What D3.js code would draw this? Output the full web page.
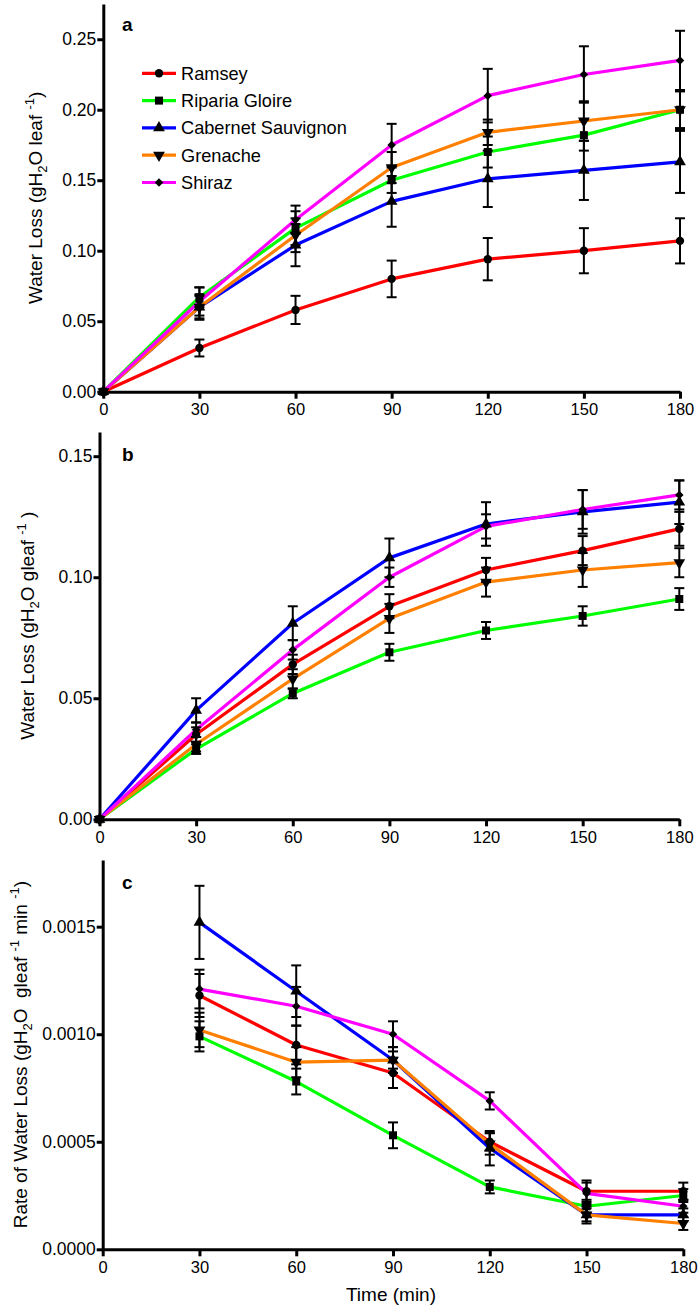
<!DOCTYPE html>
<html>
<head>
<meta charset="utf-8">
<script src="https://cdn.jsdelivr.net/npm/d3@7"></script>
<style>
  body { margin: 0; background: #fff; }
  text { font-family: "Liberation Sans", Arial, sans-serif; fill: #000; }
</style>
</head>
<body>
<svg id="chart" width="700" height="1308"></svg>
<script>
// ---- data ----
const cultivars = ["Ramsey", "Riparia Gloire", "Cabernet Sauvignon", "Grenache", "Shiraz"];
const seriesColors = ["#ff0000", "#00ff00", "#0000ff", "#ff8000", "#ff00ff"];
const timeA = [0, 30, 60, 90, 120, 150, 180];
const timeC = [30, 60, 90, 120, 150, 180];
const xTicks = [0, 30, 60, 90, 120, 150, 180];

// a: water loss per leaf
const lossLeaf = [
  [0, 0.031, 0.058, 0.080, 0.094, 0.100, 0.107],
  [0, 0.067, 0.116, 0.150, 0.170, 0.182, 0.200],
  [0, 0.060, 0.104, 0.135, 0.151, 0.157, 0.163],
  [0, 0.060, 0.111, 0.159, 0.184, 0.192, 0.200],
  [0, 0.064, 0.122, 0.175, 0.210, 0.225, 0.235]
];
const lossLeafErr = [
  [0, 0.006, 0.010, 0.013, 0.015, 0.016, 0.016],
  [0, 0.007, 0.012, 0.009, 0.011, 0.011, 0.013],
  [0, 0.009, 0.015, 0.018, 0.020, 0.021, 0.022],
  [0, 0.008, 0.012, 0.011, 0.009, 0.014, 0.014],
  [0, 0.010, 0.010, 0.015, 0.019, 0.020, 0.021]
];
const ticksA = [0, 0.05, 0.10, 0.15, 0.20, 0.25];

// b: water loss per g leaf
const lossGram = [
  [0, 0.035, 0.064, 0.088, 0.103, 0.111, 0.120],
  [0, 0.029, 0.052, 0.069, 0.078, 0.084, 0.091],
  [0, 0.045, 0.081, 0.108, 0.122, 0.127, 0.131],
  [0, 0.031, 0.058, 0.083, 0.098, 0.103, 0.106],
  [0, 0.037, 0.070, 0.100, 0.121, 0.128, 0.134]
];
const lossGramErr = [
  [0, 0.003, 0.004, 0.005, 0.005, 0.006, 0.007],
  [0, 0.002, 0.002, 0.0035, 0.0035, 0.004, 0.0045],
  [0, 0.005, 0.007, 0.008, 0.009, 0.009, 0.009],
  [0, 0.003, 0.004, 0.006, 0.006, 0.007, 0.006],
  [0, 0.003, 0.004, 0.004, 0.005, 0.008, 0.006]
];
const ticksB = [0, 0.05, 0.10, 0.15];

// c: rate of water loss
const lossRate = [
  [0.00118, 0.00095, 0.00082, 0.00050, 0.00027, 0.00027],
  [0.00099, 0.00078, 0.00053, 0.00029, 0.00020, 0.00025],
  [0.00152, 0.00120, 0.00088, 0.00047, 0.00016, 0.00016],
  [0.00102, 0.00087, 0.00088, 0.00049, 0.00016, 0.00012],
  [0.00121, 0.00113, 0.00100, 0.00069, 0.00026, 0.00020]
];
const lossRateErr = [
  [0.00010, 0.00009, 0.00007, 0.00004, 0.00005, 0.00004],
  [0.00007, 0.00006, 0.00006, 0.00003, 0.00003, 0.00003],
  [0.00017, 0.00012, 0.00006, 0.00008, 0.00004, 0.00003],
  [0.00008, 0.00007, 0.00004, 0.00005, 0.00003, 0.00003],
  [0.00009, 0.00009, 0.00006, 0.00004, 0.00005, 0.00003]
];
const ticksC = [0, 0.0005, 0.0010, 0.0015];

// ---- layout ----
const svg = d3.select("#chart");
const tickFont = 17.5;
const titleFont = 19;

const panels = [
  { letter: "a", times: timeA, mean: lossLeaf, err: lossLeafErr, ticks: ticksA, fmt: d3.format(".2f"),
    left: 103.3, right: 680, top: 4, bottom: 391.7, yMax: 0.275, labelX: 42,
    label: [["Water Loss (gH"], ["2", "sub"], ["O leaf "], ["-1", "sup"], [")"]] },
  { letter: "b", times: timeA, mean: lossGram, err: lossGramErr, ticks: ticksB, fmt: d3.format(".2f"),
    left: 99.5, right: 679.3, top: 432, bottom: 819.3, yMax: 0.16, labelX: 34,
    label: [["Water Loss (gH"], ["2", "sub"], ["O gleaf "], ["-1", "sup"], [" )"]] },
  { letter: "c", times: timeC, mean: lossRate, err: lossRateErr, ticks: ticksC, fmt: d3.format(".4f"),
    left: 102.7, right: 683.3, top: 860, bottom: 1249.3, yMax: 0.00181, labelX: 27,
    label: [["Rate of Water Loss (gH"], ["2", "sub"], ["O  gleaf "], ["-1", "sup"], [" min "], ["-1", "sup"], [")"]] }
];

// marker shapes, one per cultivar
function markerPath(i) {
  const shapes = [
    d3.symbol(d3.symbolCircle, 55),
    d3.symbol(d3.symbolSquare, 64),
    d3.symbol(d3.symbolTriangle, 60),
    d3.symbol(d3.symbolTriangle, 60),
    d3.symbol(d3.symbolSquare, 36)
  ];
  return shapes[i]();
}
function markerRotate(i) {
  if (i === 3) return " rotate(180)";
  if (i === 4) return " rotate(45)";
  return "";
}

panels.forEach((p) => {
  const x = d3.scaleLinear().domain([0, 180]).range([p.left, p.right]);
  const y = d3.scaleLinear().domain([0, p.yMax]).range([p.bottom, p.top]);
  const g = svg.append("g");

  // axes
  const yAxis = g.append("g")
    .attr("transform", `translate(${p.left},0)`)
    .call(d3.axisLeft(y).tickValues(p.ticks).tickFormat(p.fmt).tickSize(6).tickSizeOuter(0).tickPadding(1));
  const xAxis = g.append("g")
    .attr("transform", `translate(0,${p.bottom})`)
    .call(d3.axisBottom(x).tickValues(xTicks).tickSize(7).tickSizeOuter(0).tickPadding(5));
  [yAxis, xAxis].forEach((ax) => {
    ax.select(".domain").attr("stroke", "#000").attr("stroke-width", 3);
    ax.selectAll(".tick line").attr("stroke", "#000").attr("stroke-width", 3);
    ax.selectAll(".tick text").attr("font-size", tickFont).attr("font-family", "Liberation Sans, Arial, sans-serif");
  });
  xAxis.selectAll(".tick text").attr("font-size", 16.5);

  // panel letter
  g.append("text")
    .attr("x", 122)
    .attr("y", p.top + (p.letter === "a" ? 27 : 29))
    .attr("font-size", 19)
    .attr("font-weight", "bold")
    .text(p.letter);

  // y label with sub/superscripts
  const lab = g.append("text")
    .attr("transform", `translate(${p.labelX},${(p.top + p.bottom) / 2}) rotate(-90)`)
    .attr("text-anchor", "middle")
    .style("white-space", "pre")
    .attr("font-size", titleFont);
  let prevKind = null;
  p.label.forEach(([t, kind]) => {
    const ts = lab.append("tspan").text(t);
    if (kind === "sub") ts.attr("font-size", titleFont * 0.68).attr("dy", 5);
    if (kind === "sup") ts.attr("font-size", titleFont * 0.68).attr("dy", -8);
    if (!kind && prevKind === "sub") ts.attr("dy", -5);
    if (!kind && prevKind === "sup") ts.attr("dy", 8);
    prevKind = kind || null;
  });

  const line = d3.line().x((d) => x(d[0])).y((d) => y(d[1]));

  // lines
  p.mean.forEach((vals, i) => {
    g.append("path")
      .datum(vals.map((v, j) => [p.times[j], v]))
      .attr("d", line)
      .attr("fill", "none")
      .attr("stroke", seriesColors[i])
      .attr("stroke-width", 3.2)
      .attr("stroke-linejoin", "round");
  });

  // error bars
  p.mean.forEach((vals, i) => {
    vals.forEach((v, j) => {
      const e = p.err[i][j];
      if (!e) return;
      const cx = x(p.times[j]);
      const eb = g.append("g").attr("stroke", "#000").attr("stroke-width", 2);
      eb.append("line").attr("x1", cx).attr("x2", cx).attr("y1", y(v - e)).attr("y2", y(v + e));
      [v - e, v + e].forEach((yy) => {
        eb.append("line").attr("x1", cx - 5).attr("x2", cx + 5).attr("y1", y(yy)).attr("y2", y(yy));
      });
    });
  });

  // markers
  p.mean.forEach((vals, i) => {
    g.selectAll(null)
      .data(vals.map((v, j) => [p.times[j], v]))
      .enter()
      .append("path")
      .attr("d", markerPath(i))
      .attr("transform", (d) => `translate(${x(d[0])},${y(d[1])})${markerRotate(i)}`)
      .attr("fill", "#000");
  });

  // x title on last panel
  if (p.letter === "c") {
    g.append("text")
      .attr("x", x(90) - 2)
      .attr("y", 1301)
      .attr("text-anchor", "middle")
      .attr("font-size", titleFont)
      .text("Time (min)");
  }
});

// legend in panel a
const legend = svg.append("g").attr("transform", "translate(142,73.3)");
cultivars.forEach((name, i) => {
  const row = legend.append("g").attr("transform", `translate(0,${i * 27.3})`);
  row.append("line")
    .attr("x1", 0).attr("x2", 34).attr("y1", 0).attr("y2", 0)
    .attr("stroke", seriesColors[i]).attr("stroke-width", 3.2);
  row.append("path")
    .attr("d", markerPath(i))
    .attr("transform", `translate(17,0)${markerRotate(i)}`)
    .attr("fill", "#000");
  row.append("text")
    .attr("x", 39)
    .attr("y", 6.5)
    .attr("font-size", 18.2)
    .text(name);
});
</script>
</body>
</html>
